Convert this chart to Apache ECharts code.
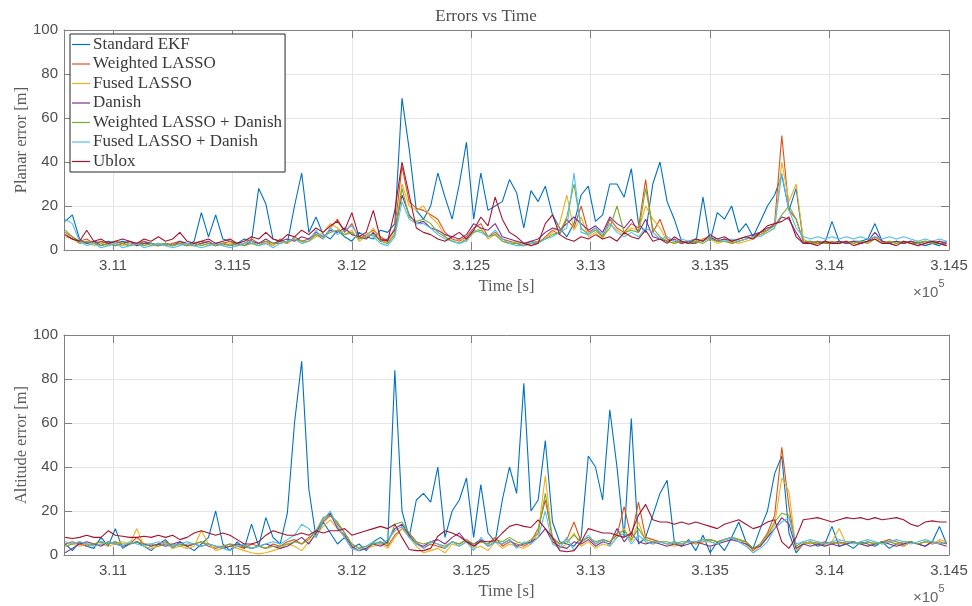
<!DOCTYPE html>
<html>
<head>
<meta charset="utf-8">
<script src="https://cdn.jsdelivr.net/npm/echarts@6/dist/echarts.min.js"></script>
<style>
html,body{margin:0;padding:0;background:#fff;}
#chart{width:972px;height:606px;}
</style>
</head>
<body>
<div id="chart"></div>
<script>
// ---- Data ----
const TIME_START = 310800;   // s
const TIME_STEP = 30;        // s
const X_MIN = 310795, X_MAX = 314500;
const X_TICKS = [311000, 311500, 312000, 312500, 313000, 313500, 314000, 314500];

const seriesNames = ['Standard EKF','Weighted LASSO','Fused LASSO','Danish','Weighted LASSO + Danish','Fused LASSO + Danish','Ublox'];

// Planar error [m]
const planarEKF = [13,16,5,3,4,3,4,3,4,3, 2,4,3,2,3,2,3,2,4,17, 6,16,5,4,3,5,4,28,21,5, 4,3,20,35,8,15,7,5,9,6,
  4,8,6,5,9,8,12,69,46,18, 14,20,35,24,14,30,49,14,35,18, 20,22,32,26,10,27,22,29,16,10, 6,12,25,29,13,16,30,30,24,37,
  12,8,30,40,22,14,4,3,3,24, 4,17,14,20,8,12,6,13,20,25, 34,18,28,4,3,4,3,13,4,3, 4,4,5,12,4,3,4,3,4,3, 2,3,2,4];
const planarWL = [8,6,4,5,3,4,3,4,3,2, 3,4,2,3,2,3,4,2,3,4, 3,2,3,4,2,3,5,3,4,2, 5,3,6,4,5,7,5,10,14,8,
  12,5,7,9,6,4,10,38,22,19, 18,16,14,8,5,4,6,10,12,6, 8,5,4,3,2,4,3,6,9,7, 14,10,20,8,10,6,14,10,8,12,
  10,32,8,14,5,4,3,4,3,5, 6,4,5,3,4,5,6,8,9,12, 52,18,14,4,3,4,3,3,4,3, 4,3,4,6,4,3,4,3,4,3, 4,3,4,3];
const planarFL = [6,5,3,4,2,3,2,3,2,3, 2,3,2,2,3,2,3,2,2,3, 2,3,2,3,2,3,4,2,3,2, 4,3,5,3,4,6,8,12,10,7,
  9,4,6,10,5,3,8,30,20,18, 20,15,12,6,4,5,4,8,10,5, 7,4,3,4,2,3,4,5,8,12, 25,9,15,6,8,5,12,9,7,10,
  9,20,14,10,4,3,4,3,4,5, 5,3,4,4,3,4,5,7,8,10, 40,22,30,5,3,3,4,3,3,4, 3,4,3,5,3,4,3,4,3,4, 3,4,3,2];
const planarDA = [7,5,4,3,4,2,3,2,3,4, 2,3,3,2,3,2,4,3,2,3, 4,2,3,2,3,2,4,3,5,3, 4,5,4,6,5,8,6,9,8,10,
  7,6,5,8,4,5,9,25,16,12, 13,10,9,7,6,5,7,12,10,9, 12,6,5,4,3,4,5,8,10,9, 12,15,12,9,11,8,15,12,10,14,
  8,14,6,5,4,5,3,4,5,4, 6,4,5,4,5,6,7,8,10,11, 15,14,8,3,4,3,4,3,4,3, 4,3,4,8,4,3,4,3,4,3, 4,3,4,3];
const planarWD = [9,6,3,4,3,2,3,2,3,2, 3,2,3,2,3,2,3,2,3,2, 3,2,3,2,3,2,3,2,4,3, 3,4,5,4,4,7,6,8,9,7,
  8,5,6,7,4,3,7,28,15,13, 14,12,8,6,4,3,5,8,9,6, 7,4,3,3,2,3,4,5,7,8, 15,30,10,7,9,6,10,20,8,9,
  8,28,10,6,4,3,4,3,4,3, 5,4,4,3,4,5,6,7,9,11, 16,20,14,4,4,3,3,4,3,4, 3,4,3,5,3,4,3,4,3,3, 4,3,3,2];
const planarFD = [14,12,4,2,3,1,2,3,1,2, 3,1,2,3,2,1,2,3,2,1, 2,3,2,1,2,3,4,2,3,1, 3,4,5,3,4,9,5,10,7,9,
  11,6,8,6,3,2,6,22,14,12, 12,10,7,5,4,3,4,9,8,6, 9,5,3,2,2,3,3,5,6,8, 10,35,8,7,10,7,12,8,6,8,
  6,10,8,5,6,4,5,4,5,4, 6,5,4,5,4,5,6,6,8,10, 35,18,10,6,5,6,5,6,5,6, 5,6,5,6,5,6,5,6,5,4, 5,4,5,4];
const planarUB = [7,5,4,9,4,5,3,4,5,4, 3,5,4,6,4,5,8,4,3,4, 5,3,4,5,3,4,6,5,8,5, 4,7,6,9,7,10,8,11,13,9,
  17,6,8,18,5,4,18,40,25,10, 8,7,5,4,6,8,5,9,15,11, 24,14,8,6,3,2,3,12,16,7, 5,4,6,5,7,5,6,4,8,6,
  5,9,4,5,3,6,4,3,5,4, 7,5,6,4,5,6,5,8,11,12, 13,15,6,3,3,2,4,3,3,4, 2,3,4,5,3,3,2,4,3,2, 3,4,3,2];

// Altitude error [m]
const altEKF = [5,2,6,4,3,8,4,12,3,5, 6,4,2,5,7,3,6,4,2,5, 8,20,5,2,6,3,14,4,17,8, 5,19,60,88,30,8,15,10,5,8,
  3,5,2,6,8,5,84,20,8,25, 28,24,40,8,20,25,35,8,32,10, 6,25,40,28,78,20,25,52,15,6, 5,4,8,45,40,25,66,40,8,62,
  5,8,18,28,34,6,4,7,2,9, 1,6,2,8,15,6,3,12,20,37, 45,10,1,5,6,4,5,13,4,5, 3,6,5,4,6,3,5,4,6,5, 4,6,13,5];
const altWL = [5,6,5,4,5,6,5,6,4,5, 8,5,4,5,6,4,5,4,5,6, 4,3,4,5,4,3,5,4,3,5, 4,6,7,5,8,10,15,18,14,10,
  5,3,4,5,6,4,9,12,10,6, 3,5,4,3,6,5,7,4,6,5, 8,4,6,5,4,6,12,25,8,5, 7,15,6,8,5,7,6,9,22,8,
  24,8,7,6,5,6,5,6,5,6, 7,6,7,8,7,6,2,5,10,18, 49,22,3,5,6,5,6,5,6,5, 6,5,6,5,6,7,6,5,6,5, 6,5,6,5];
const altFL = [4,5,4,5,4,5,4,5,6,5, 12,4,3,4,5,3,4,3,4,11, 5,2,3,4,3,2,1,0.5,1,2, 3,5,4,2,6,9,13,16,12,8,
  3,2,3,4,5,3,8,12,8,4, 1,2,3,1,5,4,6,3,4,2, 6,3,5,4,3,5,10,36,6,3, 5,10,4,6,3,5,4,8,12,6,
  15,6,5,6,5,4,5,6,5,6, 6,5,7,8,7,5,1,4,8,14, 35,29,2,5,6,5,4,6,12,5, 6,5,4,6,5,6,5,4,6,5, 6,5,7,6];
const altDA = [1,3,5,6,5,4,6,5,4,5, 6,5,4,5,4,5,6,4,5,4, 5,4,3,4,5,4,3,4,5,4, 3,4,6,8,5,10,16,19,12,9,
  4,2,3,5,4,6,12,14,9,5, 4,6,7,5,8,10,6,5,7,4, 6,5,7,4,5,6,8,12,6,4, 3,6,5,7,4,6,5,12,6,10,
  6,5,6,5,4,5,4,5,6,5, 4,5,6,7,6,5,3,4,8,12, 17,14,3,5,4,5,4,5,4,5, 6,5,4,5,6,5,4,5,6,5, 4,6,5,4];
const altWD = [4,5,6,5,5,6,5,6,5,5, 6,5,5,4,5,5,4,5,5,6, 5,4,4,5,4,4,3,4,3,4, 4,5,6,5,7,11,17,18,15,10,
  5,3,4,5,6,5,14,15,10,6, 5,6,5,4,6,5,7,5,6,5, 7,6,8,6,5,7,10,28,7,5, 6,9,6,8,6,7,6,10,11,7,
  12,7,6,6,6,5,6,6,6,7, 7,6,7,8,7,6,3,5,9,15, 19,18,4,6,5,6,5,6,5,6, 6,5,6,5,6,6,5,6,6,5, 6,6,5,6];
const altFD = [6,5,6,5,4,5,6,5,4,6, 5,4,5,6,5,4,5,6,5,4, 5,4,3,2,4,5,3,4,5,6, 5,7,9,14,12,8,16,20,13,8,
  3,2,4,6,5,7,11,13,8,5, 3,6,5,3,6,4,6,2,8,4, 6,5,7,3,6,5,8,20,5,3, 8,2,6,9,5,7,4,8,10,5,
  9,6,5,6,5,6,5,6,6,7, 6,5,7,8,6,4,1,3,6,12, 15,17,5,6,7,6,5,6,7,6, 5,6,7,6,5,6,7,6,5,6, 7,6,5,6];
const altUB = [8,7.5,8,9,8,8,11,9,8.5,8, 8,8.5,8,9,8,9,7,8,10,11, 10,9,10,9,7,5,5,6,9,11, 10,9,9,10,9,11,10,11,11,12,
  9,10,11,12,13,12,14,8,2.5,2, 2,3,8.5,11,10,8.5,6,4,6.5,6, 6.5,10,13,14,13,12.5,16,12,8,2, 1.5,2,6,12,11,10,10,9,8,10,
  18,23,16,15,15,14,15,14,15,14, 13,12,14,15,16,14,12,13,15,16, 6,3,8,16,16.5,17,16,15,16,17, 16.5,17,16,17,16,16.5,17,16,14,13, 15,15.5,15,15];

const planarData = [planarEKF, planarWL, planarFL, planarDA, planarWD, planarFD, planarUB];
const altData = [altEKF, altWL, altFL, altDA, altWD, altFD, altUB];
const colors = ['#0072BD','#D95319','#EDB120','#7E2F8E','#77AC30','#4DBEEE','#A2142F'];

// ---- Chart ----
const chart = echarts.init(document.getElementById('chart'), null, {renderer:'canvas'});
const times = planarEKF.map((_, i) => TIME_START + i * TIME_STEP);
const pair = arr => arr.map((v, i) => [times[i], v]);

const AX = '#808080';
const LBL = '#4d4d4d';
const SERIF = 'Liberation Serif';
const SANS = 'Liberation Sans';

function xFmt(v) {
  if (X_TICKS.indexOf(Math.round(v)) < 0) return '';
  return String(parseFloat((v / 1e5).toFixed(3)));
}
function xAxis(gridIndex, position, main) {
  return {
    type: 'value', gridIndex, position, min: X_MIN, max: X_MAX,
    minInterval: 500, maxInterval: 500, splitNumber: 7,
    axisLine: {show: true, onZero: false, lineStyle: {color: AX, width: 1}},
    axisTick: {show: true, inside: true, length: 8, lineStyle: {color: AX}},
    axisLabel: {show: main, formatter: xFmt, color: LBL, fontFamily: SANS, fontSize: 15, margin: 8, showMinLabel: true, showMaxLabel: true},
    splitLine: {show: main, lineStyle: {color: '#e6e6e6', width: 1}},
    name: main ? 'Time [s]' : '', nameLocation: 'middle', nameGap: 28,
    nameTextStyle: {fontFamily: SERIF, fontSize: 16.5, color: '#5a5a5a'}
  };
}
function yAxis(gridIndex, position, main, name) {
  return {
    type: 'value', gridIndex, position, min: 0, max: 100, interval: 20,
    axisLine: {show: true, onZero: false, lineStyle: {color: AX, width: 1}},
    axisTick: {show: true, inside: true, length: 8, lineStyle: {color: AX}},
    axisLabel: {show: main, color: LBL, fontFamily: SANS, fontSize: 15, margin: 6},
    splitLine: {show: main, lineStyle: {color: '#e6e6e6', width: 1}},
    name: main ? name : '', nameLocation: 'middle', nameGap: 34, nameMoveOverlap: false,
    nameTextStyle: {fontFamily: SERIF, fontSize: 16.5, color: '#5a5a5a'}
  };
}

const series = [];
[planarData, altData].forEach((set, g) => {
  set.forEach((arr, k) => {
    series.push({
      name: seriesNames[k], type: 'line', xAxisIndex: g * 2, yAxisIndex: g * 2,
      data: pair(arr), symbol: 'none', showSymbol: false,
      lineStyle: {color: colors[k], width: 1.1}, itemStyle: {color: colors[k]},
      z: 2 + k, silent: true
    });
  });
});

const expText = (y) => ({
  type: 'text', left: 913, top: y, z: 10,
  style: {
    text: '{b|×10}{s|5}',
    rich: {
      b: {fontFamily: SANS, fontSize: 15, fill: '#666', verticalAlign: 'bottom', lineHeight: 22},
      s: {fontFamily: SANS, fontSize: 11, fill: '#666', verticalAlign: 'top', lineHeight: 22}
    }
  }
});

chart.setOption({
  animation: false,
  backgroundColor: '#fff',
  grid: [
    {left: 64, top: 30, width: 885, height: 220, containLabel: false},
    {left: 64, top: 335, width: 885, height: 220, containLabel: false}
  ],
  xAxis: [xAxis(0, 'bottom', true), xAxis(0, 'top', false), xAxis(1, 'bottom', true), xAxis(1, 'top', false)],
  yAxis: [yAxis(0, 'left', true, 'Planar error [m]'), yAxis(0, 'right', false), yAxis(1, 'left', true, 'Altitude error [m]'), yAxis(1, 'right', false)],
  legend: {
    orient: 'vertical', left: 70, top: 34, itemWidth: 18, itemHeight: 12, itemGap: 2.5,
    icon: 'path://M0,0H18V1.2H0Z', symbolKeepAspect: true,
    padding: [2, 3, 2, 2], backgroundColor: '#fff', borderColor: '#262626', borderWidth: 1,
    textStyle: {fontFamily: SERIF, fontSize: 17, color: '#3a3a3a', padding: [0, 0, 0, -2]},
    data: seriesNames, selectedMode: false, z: 20
  },
  graphic: [
    {type: 'text', left: 'center', top: 8, z: 10, style: {text: 'Errors vs Time', fontFamily: SERIF, fontSize: 17, fill: '#4d4d4d'}},
    expText(278),
    expText(583)
  ],
  series
});
</script>
</body>
</html>
